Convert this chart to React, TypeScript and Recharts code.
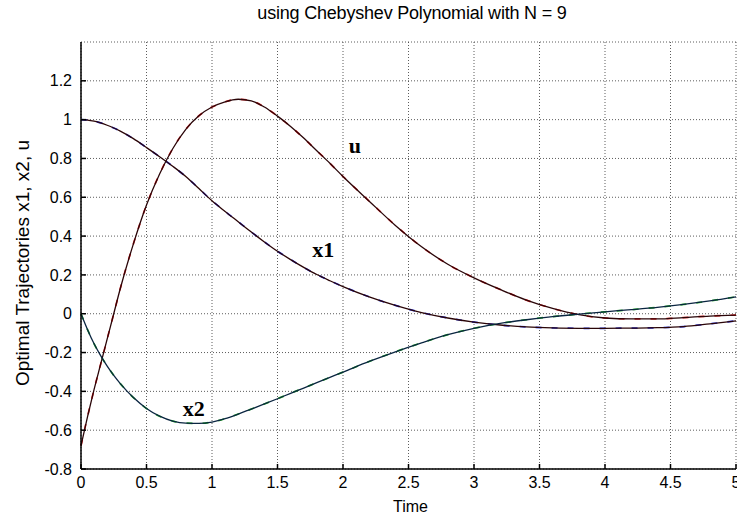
import React from 'react';
import { LineChart, Line, XAxis, YAxis, CartesianGrid, ReferenceDot } from 'recharts';

const time = [
  0, 0.05, 0.1, 0.15, 0.2, 0.25, 0.3, 0.4, 0.5, 0.6, 0.7, 0.8, 0.9, 1.0, 1.1, 1.2, 1.3, 1.4, 1.5, 1.6,
  1.7, 1.8, 1.9, 2.0, 2.2, 2.4, 2.6, 2.8, 3.0, 3.2, 3.4, 3.6, 3.8, 4.0, 4.2, 4.4, 4.6, 4.8, 5.0,
];

const uVals = [
  -0.68, -0.53, -0.39, -0.26, -0.13, 0.0, 0.13, 0.36, 0.56, 0.72, 0.85, 0.95, 1.02, 1.065, 1.092, 1.105,
  1.097, 1.065, 1.018, 0.965, 0.905, 0.84, 0.775, 0.707, 0.58, 0.455, 0.345, 0.255, 0.185, 0.125, 0.07, 0.027,
  -0.005, -0.022, -0.027, -0.027, -0.02, -0.012, -0.007,
];

const x1Vals = [
  1.0, 0.998, 0.992, 0.983, 0.971, 0.957, 0.941, 0.902, 0.856, 0.809, 0.76, 0.707, 0.645, 0.582, 0.527, 0.474,
  0.421, 0.37, 0.322, 0.279, 0.239, 0.202, 0.17, 0.14, 0.087, 0.043, 0.006, -0.022, -0.043, -0.058, -0.068, -0.073,
  -0.075, -0.075, -0.074, -0.072, -0.066, -0.052, -0.037,
];

const x2Vals = [
  0, -0.082, -0.155, -0.216, -0.27, -0.318, -0.36, -0.432, -0.488, -0.528, -0.553, -0.564, -0.565, -0.558,
  -0.541, -0.517, -0.491, -0.465, -0.438, -0.41, -0.383, -0.355, -0.328, -0.301, -0.246, -0.196, -0.15, -0.108,
  -0.075, -0.05, -0.031, -0.015, -0.002, 0.01, 0.021, 0.033, 0.048, 0.066, 0.087,
];

const xTicks = [0, 0.5, 1, 1.5, 2, 2.5, 3, 3.5, 4, 4.5, 5];
const yTicks = [-0.8, -0.6, -0.4, -0.2, 0, 0.2, 0.4, 0.6, 0.8, 1, 1.2];

const curveLabels = [
  { text: 'u', t: 2.09, v: 0.865 },
  { text: 'x1', t: 1.85, v: 0.33 },
  { text: 'x2', t: 0.86, v: -0.49 },
];

const rows = time.map((t, i) => ({ t, u: uVals[i], x1: x1Vals[i], x2: x2Vals[i] }));

const sans = 'Liberation Sans, Arial, sans-serif';
const tickFont = { fontFamily: sans, fontSize: 16, fill: '#000' };

const CurveLabel = ({ viewBox, text }: any) => {
  const cx = viewBox.cx ?? viewBox.x;
  const cy = viewBox.cy ?? viewBox.y;
  return (
    <text
      x={cx}
      y={cy}
      textAnchor="middle"
      dominantBaseline="central"
      fontFamily="Liberation Serif, Times New Roman, serif"
      fontWeight="bold"
      fontSize={22}
      fill="#000"
    >
      {text}
    </text>
  );
};

// y axis title, drawn at fixed spot left of the tick labels
const YTitle = () => (
  <text
    x={22}
    y={263}
    transform="rotate(-90 22 263)"
    textAnchor="middle"
    dominantBaseline="central"
    fontFamily={sans}
    fontSize={19}
    fill="#000"
  >
    Optimal Trajectories x1, x2, u
  </text>
);

export default function App() {
  return (
    <div style={{ position: 'absolute', left: 0, top: 0, width: 737, height: 517, background: '#fff' }}>
      <LineChart width={737} height={517} data={rows} margin={{ top: 42, right: 1, bottom: 18, left: 21 }}>
        <CartesianGrid stroke="#333" strokeDasharray="1 2" strokeWidth={0.8} />
        <XAxis
          dataKey="t"
          type="number"
          domain={[0, 5]}
          ticks={xTicks}
          height={30}
          stroke="#000"
          strokeWidth={1.5}
          tickSize={-5}
          tickMargin={13}
          tick={tickFont}
          interval={0}
        />
        <XAxis
          xAxisId="top"
          dataKey="t"
          type="number"
          orientation="top"
          domain={[0, 5]}
          ticks={xTicks}
          height={0}
          stroke="#000"
          strokeWidth={1.5}
          tickSize={-5}
          tick={false}
        />
        <YAxis
          type="number"
          domain={[-0.8, 1.4]}
          ticks={yTicks}
          width={60}
          stroke="#000"
          strokeWidth={1.5}
          tickSize={-5}
          tickMargin={14}
          tick={tickFont}
          interval={0}
          label={<YTitle />}
        />
        <YAxis
          yAxisId="right"
          type="number"
          orientation="right"
          domain={[-0.8, 1.4]}
          ticks={yTicks}
          width={0}
          stroke="#000"
          strokeWidth={1.5}
          tickSize={-5}
          tick={false}
        />
        <Line type="monotone" dataKey="u" stroke="#e02020" strokeWidth={1.7} strokeDasharray="6 10" dot={false} isAnimationActive={false} />
        <Line type="monotone" dataKey="x1" stroke="#2030e0" strokeWidth={1.7} strokeDasharray="6 10" dot={false} isAnimationActive={false} />
        <Line type="monotone" dataKey="x2" stroke="#20b020" strokeWidth={1.7} strokeDasharray="6 10" dot={false} isAnimationActive={false} />
        <Line type="monotone" dataKey="u" stroke="#2a0508" strokeWidth={1.3} dot={false} isAnimationActive={false} />
        <Line type="monotone" dataKey="x1" stroke="#2a0508" strokeWidth={1.3} dot={false} isAnimationActive={false} />
        <Line type="monotone" dataKey="x2" stroke="#0a2540" strokeWidth={1.3} dot={false} isAnimationActive={false} />
        {curveLabels.map((c) => (
          <ReferenceDot
            key={c.text}
            x={c.t}
            y={c.v}
            r={0}
            stroke="none"
            fill="none"
            label={<CurveLabel text={c.text} />}
          />
        ))}
      </LineChart>
      <div
        style={{
          position: 'absolute',
          left: 0,
          width: 737,
          top: 3,
          textAlign: 'center',
          paddingLeft: 87,
          boxSizing: 'border-box',
          fontFamily: sans,
          fontSize: 18,
          color: '#000',
          letterSpacing: -0.2,
        }}
      >
        using Chebyshev Polynomial with N = 9
      </div>
      <div
        style={{
          position: 'absolute',
          left: 0,
          width: 737,
          top: 498,
          textAlign: 'center',
          paddingLeft: 84,
          boxSizing: 'border-box',
          fontFamily: sans,
          fontSize: 16,
          color: '#000',
        }}
      >
        Time
      </div>
    </div>
  );
}
